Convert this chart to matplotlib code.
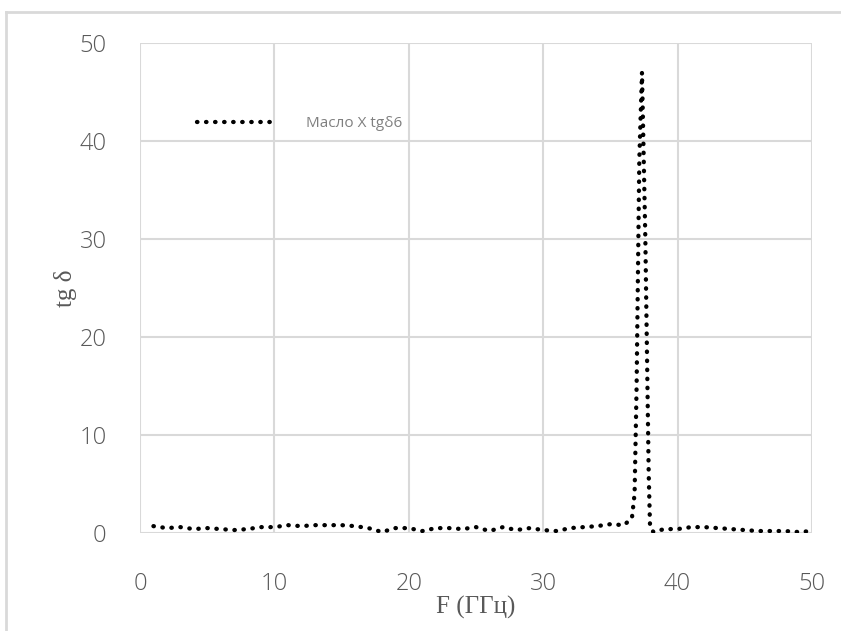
import matplotlib
matplotlib.use("Agg")
import matplotlib.pyplot as plt
from matplotlib.lines import Line2D

# data
freq = [1, 2, 3, 4, 5, 6, 7, 8, 9, 10, 11, 12, 13, 14, 15, 16, 17, 18, 19, 20,
        21, 22, 23, 24, 25, 26, 27, 28, 29, 30, 31, 32, 33, 34, 35, 36, 36.6,
        36.8, 36.95, 37.15, 37.35, 37.6, 37.85, 37.95, 38.2, 39, 40, 41, 42,
        43, 44, 45, 46, 47, 48, 49, 50]
tg_delta = [0.7, 0.5, 0.6, 0.4, 0.5, 0.4, 0.3, 0.4, 0.6, 0.6, 0.8, 0.7, 0.8,
            0.8, 0.8, 0.7, 0.5, 0.1, 0.5, 0.5, 0.2, 0.5, 0.5, 0.4, 0.6, 0.2,
            0.6, 0.3, 0.5, 0.3, 0.2, 0.5, 0.6, 0.7, 0.9, 0.8, 1.5,
            4.0, 15.0, 38.0, 47.0, 30.0, 6.0, 0.6, 0.1, 0.4, 0.4, 0.6, 0.6,
            0.5, 0.4, 0.3, 0.2, 0.2, 0.2, 0.1, 0.2]
series_name = "Масло X tgδ6"
x_ticks = [0, 10, 20, 30, 40, 50]
y_ticks = [0, 10, 20, 30, 40, 50]

grey = "#595959"
grid_col = "#d9d9d9"

fig = plt.figure(figsize=(8.41, 6.31), dpi=100)
ax = fig.add_axes([140 / 841, 1 - 533 / 631, 672 / 841, 490 / 631])

ax.plot(freq, tg_delta, color="black", linestyle=(0, (0.1, 2.0)),
        linewidth=3.1, dash_capstyle="round", label=series_name)

ax.set_xlim(0, 50)
ax.set_ylim(0, 50)
ax.set_xticks(x_ticks)
ax.set_yticks(y_ticks)
ax.grid(True, color=grid_col, linewidth=1.5)
ax.set_axisbelow(True)
for s in ax.spines.values():
    s.set_visible(False)
ax.tick_params(length=0, labelsize=17, labelcolor=grey)
ax.tick_params(axis="x", pad=28)
ax.tick_params(axis="y", pad=24)
for lab in ax.get_xticklabels() + ax.get_yticklabels():
    lab.set_family("Open Sans")
    lab.set_fontweight("light")

ax.set_xlabel("F (ГГц)", family="Liberation Serif", fontsize=18,
              color=grey, labelpad=0)
ax.set_ylabel("tg δ", family="Liberation Serif", fontsize=18,
              color=grey, labelpad=2)

# legend placed inside the plot, upper left
leg = ax.legend(loc="center left", bbox_to_anchor=(0.065, 0.835), frameon=False,
                handlelength=5.0, handletextpad=2.1,
                prop={"family": "Open Sans", "size": 11})
for t in leg.get_texts():
    t.set_color("#7f7f7f")

# outer chart border
fig.add_artist(Line2D([6 / 841, 6 / 841], [0, 1 - 12 / 631],
                      color=grid_col, linewidth=2, transform=fig.transFigure))
fig.add_artist(Line2D([6 / 841, 1], [1 - 12 / 631, 1 - 12 / 631],
                      color=grid_col, linewidth=2, transform=fig.transFigure))

fig.savefig("out.png", dpi=100)
